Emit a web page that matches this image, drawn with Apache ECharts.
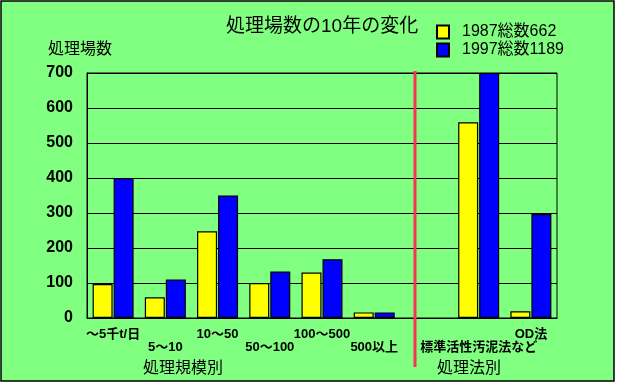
<!DOCTYPE html>
<html><head><meta charset="utf-8">
<script src="https://cdn.jsdelivr.net/npm/echarts@6/dist/echarts.min.js"></script>
<style>html,body{margin:0;padding:0;background:#fff}#c{width:617px;height:384px}</style>
</head><body><div id="c"></div>
<script>
var categories = ['〜5千t/日','5〜10','10〜50','50〜100','100〜500','500以上','','標準活性汚泥法など','OD法'];
var labelRow = [0,1,0,1,0,1,0,1,0];
var series1987 = [97, 59, 248, 100, 130, 16, null, 559, 19];
var series1997 = [400, 110, 350, 133, 168, 16, null, 700, 297];
var yTicks = [0, 700, 100];
var seriesNames = ['1987総数662', '1997総数1189'];

var FONT = '"Liberation Sans", "Noto Sans CJK JP", sans-serif';
var chart = echarts.init(document.getElementById('c'), null, {renderer: 'canvas'});
chart.setOption({
  backgroundColor: '#fff',
  animation: false,
  title: {
    text: '処理場数の10年の変化', left: 221, top: 12,
    textStyle: {fontFamily: FONT, fontSize: 19, fontWeight: 'normal', color: '#000'}
  },
  legend: {
    orient: 'vertical', left: 431, top: 19, itemWidth: 12, itemHeight: 13, itemGap: 2,
    icon: 'rect',
    textStyle: {fontFamily: FONT, fontSize: 16, color: '#000', padding: [0,0,0,8]},
    data: seriesNames
  },
  grid: {left: 87, right: 60, top: 73, bottom: 66, show: true, borderColor: '#000', borderWidth: 1, backgroundColor: 'transparent'},
  xAxis: {
    type: 'category', data: categories,
    axisLine: {lineStyle: {color: '#000', width: 1}},
    axisTick: {show: false},
    axisLabel: {
      interval: 0, margin: 10, color: '#000', fontFamily: FONT, fontWeight: 'bold', fontSize: 13, lineHeight: 13,
      formatter: function (v, i) { return labelRow[i] ? '\n' + v : v; }
    }
  },
  yAxis: {
    type: 'value', min: yTicks[0], max: yTicks[1], interval: yTicks[2],
    name: '処理場数', nameLocation: 'end', nameGap: 15,
    nameTextStyle: {fontFamily: FONT, fontSize: 16, color: '#000', padding: [0, 14, 0, 0]},
    axisLine: {show: true, lineStyle: {color: '#000', width: 1}},
    axisTick: {show: false},
    splitLine: {lineStyle: {color: '#000', width: 1}},
    axisLabel: {margin: 14, color: '#000', fontFamily: FONT, fontWeight: 'bold', fontSize: 16}
  },
  series: [
    {name: seriesNames[0], type: 'bar', data: series1987, barWidth: 20, barGap: '5%',
     itemStyle: {color: '#ffff00', borderColor: '#000', borderWidth: 1.2}},
    {name: seriesNames[1], type: 'bar', data: series1997, barWidth: 20, barGap: '5%',
     itemStyle: {color: '#0000ff', borderColor: '#000', borderWidth: 1.2}}
  ],
  graphic: [
    {type: 'rect', z: -10, silent: true, shape: {x: 1, y: 1, width: 613, height: 380},
     style: {fill: '#80ff80', stroke: '#000', lineWidth: 1.5}},
    {type: 'line', z: 100, silent: true, shape: {x1: 415, y1: 71, x2: 415, y2: 367},
     style: {stroke: '#ff3058', lineWidth: 3}},
    {type: 'text', z: 100, silent: true, x: 183, y: 369,
     style: {text: '処理規模別', font: '16px ' + FONT, fill: '#000', align: 'center', verticalAlign: 'middle'}},
    {type: 'text', z: 100, silent: true, x: 469, y: 369,
     style: {text: '処理法別', font: '16px ' + FONT, fill: '#000', align: 'center', verticalAlign: 'middle'}}
  ]
});
</script></body></html>
